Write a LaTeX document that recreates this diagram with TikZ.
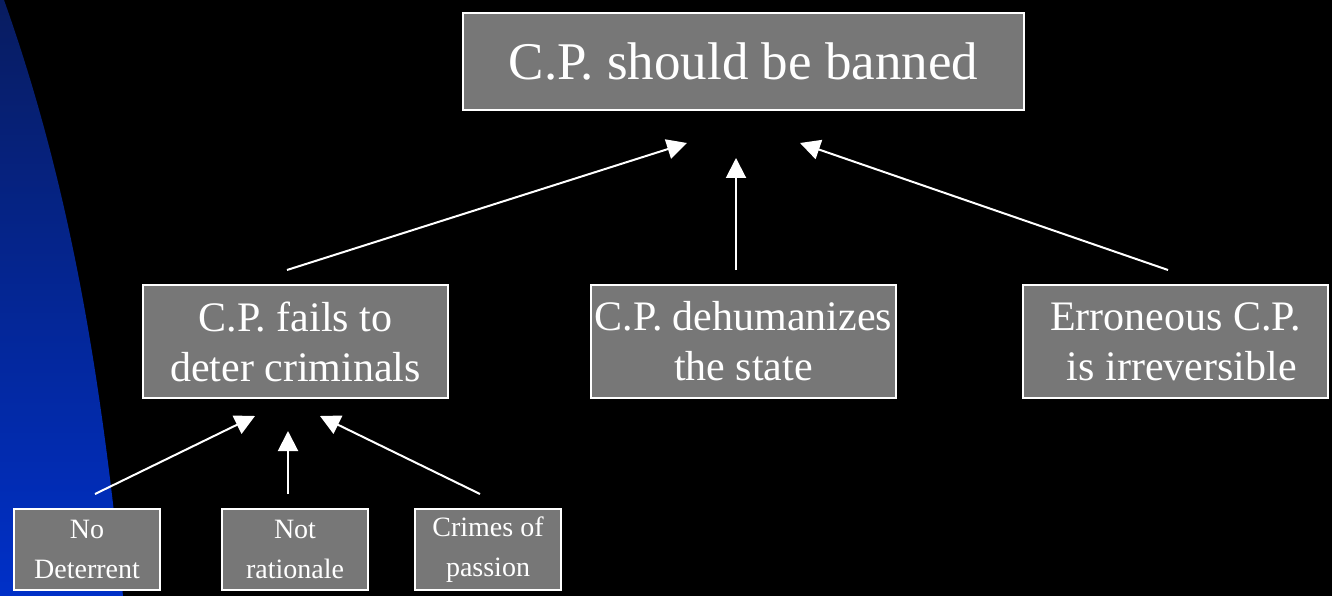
\documentclass[tikz,border=0pt]{standalone}
\usepackage{fontspec}
\setmainfont{Liberation Serif}
\usetikzlibrary{arrows.meta}
\definecolor{boxgray}{RGB}{119,119,119}
\definecolor{navytop}{RGB}{8,28,96}
\definecolor{bluebottom}{RGB}{0,48,200}

\begin{document}
\begin{tikzpicture}[x=1pt,y=-1pt,
  claim/.style={draw=white,line width=1.5pt,fill=boxgray,text=white,align=center,inner sep=0pt},
  big/.style={claim,minimum width=561pt,minimum height=97pt,font=\fontsize{53}{60}\selectfont},
  mid/.style={claim,minimum width=305pt,minimum height=113pt,font=\fontsize{42}{50}\selectfont},
  small/.style={claim,minimum width=146pt,minimum height=81pt,font=\fontsize{28}{40}\selectfont},
  support/.style={draw=white,line width=2pt,-{Triangle[length=20pt,width=20pt]}}]
\fill[black] (0,0) rectangle (1332,596) ;
\shade[top color=navytop,bottom color=bluebottom] (0,0) -- (4,0) .. controls (75,199) and (103,397) .. (123,596) -- (0,596) -- cycle ;
\node[big] (c) at (743.5,61.5) {C.P. should be banned} ;
\node[mid] (r1) at (295.5,341.5) {C.P. fails to\\deter criminals} ;
\node[mid] (r2) at (743.5,341.5) {C.P. dehumanizes\\the state} ;
\node[mid] (r3) at (1175.5,341.5) {Erroneous C.P.\\\hspace*{.3em}is irreversible} ;
\node[small] (s1) at (87,549.5) {No\\Deterrent} ;
\node[small] (s2) at (295,549.5) {Not\\rationale} ;
\node[small] (s3) at (488,549.5) {Crimes of\\passion} ;
% arrow ends
\coordinate (r1t) at (287,270) ;
\coordinate (r2t) at (736,270) ;
\coordinate (r3t) at (1168,270) ;
\coordinate (c1) at (687,143) ;
\coordinate (c2) at (736,158) ;
\coordinate (c3) at (800,143) ;
\coordinate (s1t) at (95,494) ;
\coordinate (s2t) at (288,494) ;
\coordinate (s3t) at (480,494) ;
\coordinate (r1a) at (255,416) ;
\coordinate (r1b) at (288,431) ;
\coordinate (r1c) at (320,416) ;
\draw[support] (r1t) to (c1) ;
\draw[support] (r2t) to (c2) ;
\draw[support] (r3t) to (c3) ;
\draw[support] (s1t) to (r1a) ;
\draw[support] (s2t) to (r1b) ;
\draw[support] (s3t) to (r1c) ;
\end{tikzpicture}
\end{document}
